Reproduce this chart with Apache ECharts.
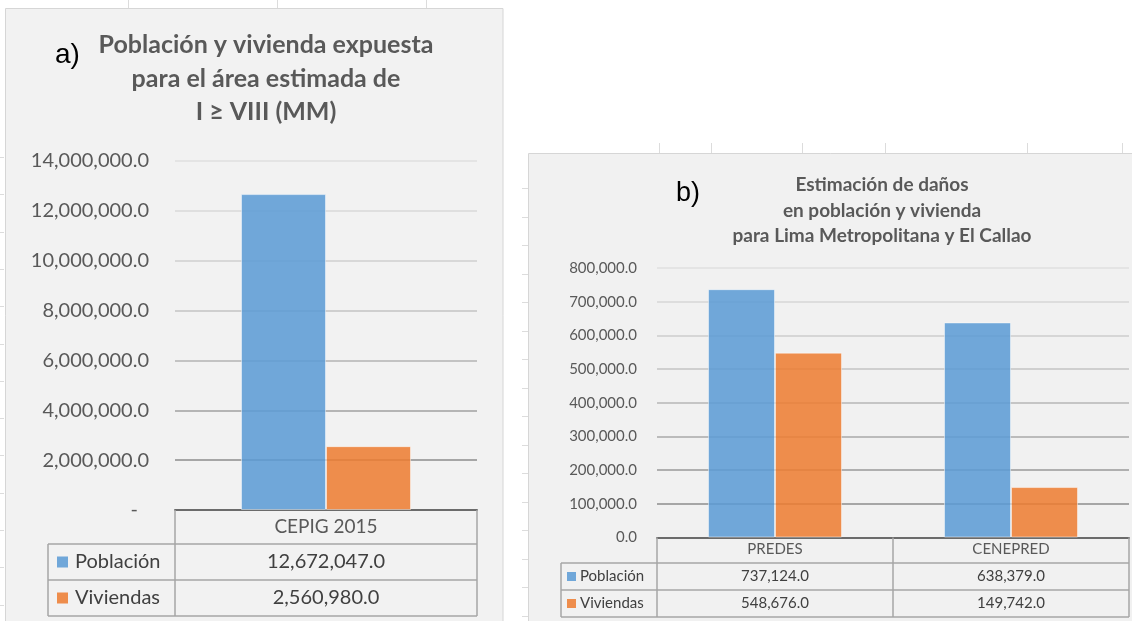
<!DOCTYPE html>
<html>
<head>
<meta charset="utf-8">
<script src="https://cdn.jsdelivr.net/npm/echarts@6/dist/echarts.min.js"></script>
<style>
  html, body { margin: 0; padding: 0; background: #ffffff; }
  #chart { width: 1132px; height: 621px; }
</style>
</head>
<body>
<div id="chart"></div>
<script>
// ---- data ----
const seriesNames = ['Población', 'Viviendas'];

const catsA = ['CEPIG 2015'];
const poblacionA = [12672047];
const viviendasA = [2560980];
const axisA = { min: 0, max: 14000000, step: 2000000 };
const titleA = ['Población y vivienda expuesta', 'para el área estimada de', 'I ≥ VIII (MM)'];

const catsB = ['PREDES', 'CENEPRED'];
const poblacionB = [737124, 638379];
const viviendasB = [548676, 149742];
const axisB = { min: 0, max: 800000, step: 100000 };
const titleB = ['Estimación de daños', 'en población y vivienda', 'para Lima Metropolitana y El Callao'];

// ---- style / layout ----
const COLORS = ['#5b9bd5', '#ed7d31'];
const BAR_OPACITY = 0.86;
const TXT = '#595959';
const TXT_DARK = '#404040';
const TABLE_LINE = '#a6a6a6';
const FONT = 'Lato, "Open Sans", sans-serif';

const GA = { x: 175, y: 161, w: 302, h: 349 };
const GB = { x: 657, y: 268, w: 472, h: 269.5 };

const fmt = v => v.toLocaleString('en-US', { minimumFractionDigits: 1, maximumFractionDigits: 1 });

// gridline shades, from the baseline upward
const gridShadesA = ['#7f7f7f', '#8c8c8c', '#a0a0a0', '#b3b3b3', '#c3c3c3', '#cfcfcf', '#d8d8d8', '#dfdfdf'];
const gridShadesB = ['#7f7f7f', '#8c8c8c', '#999999', '#a8a8a8', '#b6b6b6', '#c3c3c3', '#cdcdcd', '#d6d6d6', '#dfdfdf'];

function barSeries(name, data, idx, axisIdx, width) {
  return {
    type: 'bar', name, data,
    xAxisIndex: axisIdx, yAxisIndex: axisIdx,
    barWidth: width, barGap: '0%',
    itemStyle: { color: COLORS[idx], opacity: BAR_OPACITY, borderColor: 'rgba(255,255,255,0.55)', borderWidth: 1 },
    emphasis: { disabled: true },
    animation: false
  };
}

function catAxis(gridIndex, data, fontSize, margin) {
  return {
    type: 'category', gridIndex, data,
    axisLine: { lineStyle: { color: '#6b6b6b', width: 2 } },
    axisTick: { show: false },
    axisLabel: { color: TXT, fontFamily: FONT, fontSize, margin, verticalAlign: 'middle' }
  };
}

function valAxis(gridIndex, ax, fontSize, margin, shades, zeroLabel) {
  return {
    type: 'value', gridIndex, min: ax.min, max: ax.max, interval: ax.step,
    axisLine: { show: false }, axisTick: { show: false },
    axisLabel: {
      color: TXT, fontFamily: FONT, fontSize, margin,
      formatter: v => (v === 0 ? zeroLabel : fmt(v)),
      rich: { z: { color: TXT, fontFamily: FONT, fontSize, padding: [0, 11, 0, 0] } }
    },
    splitLine: { lineStyle: { color: shades, width: 1.5 } }
  };
}

const chart = echarts.init(document.getElementById('chart'), null, { renderer: 'canvas' });

chart.setOption({
  backgroundColor: '#ffffff',
  animation: false,
  grid: [
    { left: GA.x, top: GA.y, width: GA.w, height: GA.h },
    { left: GB.x, top: GB.y, width: GB.w, height: GB.h }
  ],
  xAxis: [catAxis(0, catsA, 19, 17), catAxis(1, catsB, 15, 12)],
  yAxis: [
    valAxis(0, axisA, 20, 26, gridShadesA, '{z|-}'),
    valAxis(1, axisB, 15, 20, gridShadesB, fmt(0))
  ],
  series: [
    barSeries(seriesNames[0], poblacionA, 0, 0, 85),
    barSeries(seriesNames[1], viviendasA, 1, 0, 85),
    barSeries(seriesNames[0], poblacionB, 0, 1, 67),
    barSeries(seriesNames[1], viviendasB, 1, 1, 67)
  ]
});

// ---- panels, titles and data tables ----
const g = [];
const line = (x1, y1, x2, y2, color, width, z) =>
  g.push({ type: 'line', z: z == null ? 10 : z, silent: true,
           shape: { x1, y1, x2, y2 }, style: { stroke: color, lineWidth: width } });
const text = (str, x, y, font, fill, align) =>
  g.push({ type: 'text', z: 10, silent: true,
           style: { text: str, x, y, font, fill, textAlign: align || 'center', textVerticalAlign: 'middle' } });

// chart panels
g.push({ type: 'rect', z: -10, silent: true, shape: { x: 5.5, y: 8.5, width: 497.5, height: 620 },
         style: { fill: '#f2f2f2', stroke: '#d6d6d6', lineWidth: 1 } });
g.push({ type: 'rect', z: -10, silent: true, shape: { x: 528.5, y: 153.5, width: 620, height: 480 },
         style: { fill: '#f1f1f1', stroke: '#d6d6d6', lineWidth: 1 } });

// worksheet cell lines peeking around the panels
[128, 277, 426].forEach(x => line(x + 0.5, 0, x + 0.5, 8, '#dcdcdc', 1, -9));
[659, 711, 802, 885, 1027, 1122].forEach(x => line(x + 0.5, 143, x + 0.5, 153, '#dcdcdc', 1, -9));
for (let y = 157; y < 621; y += 37.3) line(0, Math.round(y) + 0.5, 4, Math.round(y) + 0.5, '#dcdcdc', 1, -9);
for (let y = 188; y < 621; y += 28.5) line(522, Math.round(y) + 0.5, 528, Math.round(y) + 0.5, '#dcdcdc', 1, -9);

// titles
text('a)', 55, 55, '28px "Liberation Sans", Arial, sans-serif', '#000000', 'left');
titleA.forEach((s, i) => text(s, 266, 45 + i * 33.5, 'bold 25px ' + FONT, TXT));
text('b)', 676, 194, '27px "Liberation Sans", Arial, sans-serif', '#000000', 'left');
titleB.forEach((s, i) => text(s, 882, 185 + i * 25.5, 'bold 19px ' + FONT, TXT));

// data table under a chart
function dataTable(axisIdx, grid, cats, rows, opt) {
  const y0 = chart.convertToPixel({ yAxisIndex: axisIdx }, 0);
  const bandW = grid.w / cats.length;
  const yRows = [opt.headerBottom, opt.headerBottom + opt.rowH, opt.headerBottom + 2 * opt.rowH];
  const xr = grid.x + grid.w;
  // column borders
  for (let i = 0; i <= cats.length; i++) {
    const x = grid.x + i * bandW;
    line(x, y0, x, yRows[2], TABLE_LINE, 1.5);
  }
  // row borders
  yRows.forEach(y => line(opt.legendX, y, xr, y, TABLE_LINE, 1.5));
  line(opt.legendX, yRows[0], opt.legendX, yRows[2], TABLE_LINE, 1.5);
  // legend cells and values
  rows.forEach((vals, r) => {
    const cy = yRows[r] + opt.rowH / 2;
    g.push({ type: 'rect', z: 10, silent: true,
             shape: { x: opt.legendX + opt.keyPad, y: cy - opt.key / 2, width: opt.key, height: opt.key },
             style: { fill: COLORS[r], opacity: BAR_OPACITY } });
    text(seriesNames[r], opt.legendX + opt.keyPad + opt.key + opt.keyGap, cy,
         opt.fontSize + 'px ' + FONT, TXT_DARK, 'left');
    cats.forEach((c, i) => {
      const cx = chart.convertToPixel({ xAxisIndex: axisIdx }, c);
      text(fmt(vals[i]), cx, cy, opt.fontSize + 'px ' + FONT, TXT_DARK);
    });
  });
}

dataTable(0, GA, catsA, [poblacionA, viviendasA],
  { headerBottom: 544, rowH: 36, legendX: 48, key: 11, keyPad: 9, keyGap: 7, fontSize: 20 });
dataTable(1, GB, catsB, [poblacionB, viviendasB],
  { headerBottom: 563, rowH: 27, legendX: 561, key: 9, keyPad: 6, keyGap: 4, fontSize: 15 });

chart.setOption({ graphic: { elements: g } });
</script>
</body>
</html>
